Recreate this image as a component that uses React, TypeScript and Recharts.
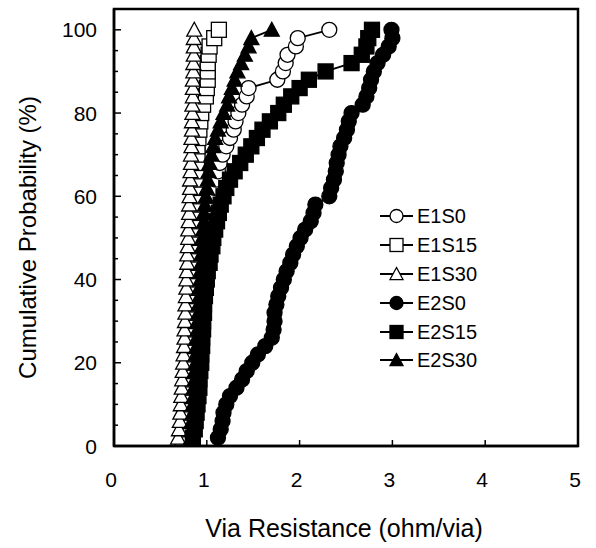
import React from 'react';
import { ScatterChart, Scatter, XAxis, YAxis, ReferenceArea } from 'recharts';

const probs = [2,4,6,8,10,12,14,16,18,20,22,24,26,28,30,32,34,36,38,40,42,44,46,48,50,52,54,56,58,60,62,64,66,68,70,72,74,76,78,80,82,84,86,88,90,92,94,96,98,100];

const e1s0 = [0.85,0.86,0.87,0.88,0.88,0.89,0.9,0.9,0.91,0.92,0.92,0.93,0.94,0.94,0.95,0.96,0.96,0.97,0.98,0.98,0.99,1.0,1.0,1.01,1.02,1.02,1.03,1.04,1.05,1.06,1.08,1.1,1.12,1.14,1.17,1.21,1.25,1.29,1.31,1.34,1.38,1.43,1.45,1.76,1.82,1.85,1.87,1.96,1.98,2.32];
const e1s15 = [0.74,0.75,0.755,0.76,0.765,0.77,0.775,0.78,0.785,0.79,0.79,0.795,0.8,0.805,0.81,0.815,0.82,0.82,0.825,0.83,0.83,0.835,0.84,0.845,0.85,0.855,0.86,0.865,0.87,0.875,0.88,0.885,0.89,0.895,0.9,0.9,0.91,0.92,0.93,0.94,0.96,0.99,1.0,1.01,1.01,1.01,1.02,1.03,1.08,1.13];
const e1s30 = [0.69,0.7,0.71,0.715,0.72,0.725,0.73,0.735,0.74,0.745,0.75,0.755,0.76,0.76,0.765,0.77,0.77,0.775,0.78,0.78,0.785,0.79,0.79,0.795,0.8,0.8,0.805,0.81,0.81,0.815,0.82,0.82,0.825,0.83,0.83,0.835,0.835,0.84,0.84,0.845,0.845,0.85,0.85,0.85,0.855,0.855,0.86,0.86,0.86,0.865];
const e2s0 = [1.12,1.15,1.17,1.18,1.21,1.25,1.32,1.38,1.43,1.49,1.55,1.63,1.7,1.72,1.73,1.73,1.75,1.77,1.8,1.83,1.86,1.9,1.93,1.97,2.01,2.06,2.12,2.15,2.17,2.32,2.34,2.37,2.39,2.4,2.42,2.44,2.48,2.51,2.53,2.56,2.68,2.72,2.75,2.77,2.8,2.84,2.9,2.96,3.0,2.99];
const e2s15 = [0.85,0.87,0.88,0.89,0.9,0.91,0.92,0.92,0.93,0.94,0.94,0.95,0.95,0.96,0.96,0.97,0.97,0.98,0.99,1.0,1.01,1.03,1.04,1.06,1.07,1.09,1.11,1.13,1.15,1.18,1.21,1.25,1.3,1.36,1.42,1.48,1.54,1.6,1.68,1.77,1.83,1.91,2.0,2.1,2.28,2.56,2.67,2.72,2.74,2.78];
const e2s30 = [0.83,0.84,0.84,0.85,0.85,0.86,0.86,0.87,0.87,0.88,0.88,0.89,0.89,0.9,0.9,0.91,0.91,0.92,0.92,0.93,0.93,0.94,0.94,0.95,0.95,0.96,0.97,0.97,0.98,0.99,1.0,1.01,1.02,1.03,1.05,1.07,1.09,1.12,1.15,1.18,1.22,1.24,1.27,1.3,1.33,1.37,1.41,1.45,1.48,1.7];

const xTicks = [0,1,2,3,4,5];
const yTicks = [0,5,10,15,20,25,30,35,40,45,50,55,60,65,70,75,80,85,90,95,100];

const seriesNames = ['E1S0','E1S15','E1S30','E2S0','E2S15','E2S30'];
const seriesX = [e1s0, e1s15, e1s30, e2s0, e2s15, e2s30];
const seriesShape = ['circle','square','triangle','circle','square','triangle'];
const seriesFilled = [false,false,false,true,true,true];

const FONT = '"Liberation Sans", Arial, sans-serif';

function Marker({ cx, cy, kind, filled, s = 7.5 }: any) {
  const fill = filled ? '#000' : '#fff';
  const common = { fill, stroke: '#000', strokeWidth: 1.3 };
  if (kind === 'circle') return <circle cx={cx} cy={cy} r={s} {...common} />;
  if (kind === 'square') return <rect x={cx - s} y={cy - s} width={2 * s} height={2 * s} {...common} />;
  return <polygon points={`${cx},${cy - s} ${cx + s},${cy + s * 0.85} ${cx - s},${cy + s * 0.85}`} {...common} />;
}

const YTick = (props: any) => {
  const { x, y, payload } = props;
  const v = payload.value;
  const major = v % 20 === 0;
  return (
    <g>
      <line x1={x} x2={x + (major ? 7 : 4)} y1={y} y2={y} stroke="#000" strokeWidth={1.5} />
      {major && (
        <text x={x - 17} y={y} dy="0.36em" textAnchor="end" fontFamily={FONT} fontSize={21} fill="#000">{v}</text>
      )}
    </g>
  );
};

const XTick = (props: any) => {
  const { x, y, payload } = props;
  return (
    <g>
      <line x1={x} x2={x} y1={y} y2={y - 6} stroke="#000" strokeWidth={1.5} />
      <text x={x - 3} y={y + 33} dy="0.36em" textAnchor="middle" fontFamily={FONT} fontSize={21} fill="#000">{payload.value}</text>
    </g>
  );
};

const LegendBox = () => (
  <div style={{ position: 'absolute', left: 380, top: 202, fontFamily: FONT, fontSize: 20, lineHeight: 1 }}>
    {seriesNames.map((n, i) => (
      <div key={n} style={{ display: 'flex', alignItems: 'center', height: 28.8 }}>
        <svg width={34} height={20} style={{ display: 'block' }}>
          <line x1={0} x2={33} y1={10} y2={10} stroke="#000" strokeWidth={2} />
          <Marker cx={16.5} cy={10} kind={seriesShape[i]} filled={seriesFilled[i]} s={6.5} />
        </svg>
        <span style={{ marginLeft: 3 }}>{n}</span>
      </div>
    ))}
  </div>
);

export default function App() {
  const datasets = seriesX.map((xs) => xs.map((x, i) => ({ x, y: probs[i] })));
  return (
    <div style={{ position: 'absolute', left: 0, top: 0, width: 596, height: 548, background: '#fff' }}>
      <ScatterChart width={596} height={548} margin={{ top: 9, right: 18, left: 0, bottom: 0 }}>
        <XAxis
          type="number"
          dataKey="x"
          domain={[0, 5]}
          ticks={xTicks}
          tick={<XTick />}
          tickSize={0}
          tickMargin={0}
          tickLine={false}
          height={102}
          axisLine={{ stroke: '#000', strokeWidth: 2.5 }}
          allowDataOverflow
          label={{
            content: (p: any) => {
              const vb = p.viewBox;
              return (
                <text x={vb.x + vb.width / 2 - 2} y={vb.y + 82} dy="0.36em" textAnchor="middle" fontFamily={FONT} fontSize={25} fill="#000">
                  Via Resistance (ohm/via)
                </text>
              );
            },
          }}
        />
        <YAxis
          type="number"
          dataKey="y"
          domain={[0, 105]}
          ticks={yTicks}
          interval={0}
          tick={<YTick />}
          tickSize={0}
          tickMargin={0}
          tickLine={false}
          width={114}
          axisLine={{ stroke: '#000', strokeWidth: 2.5 }}
          allowDataOverflow
          label={{
            content: (p: any) => {
              const vb = p.viewBox;
              const cx = vb.x + 27;
              const cy = vb.y + vb.height / 2 + 10;
              return (
                <text x={cx} y={cy} dy="0.36em" textAnchor="middle" transform={`rotate(-90 ${cx} ${cy})`} fontFamily={FONT} fontSize={24} fill="#000">
                  Cumulative Probability (%)
                </text>
              );
            },
          }}
        />
        <ReferenceArea x1={0} x2={5} y1={0} y2={105} fill="none" stroke="#000" strokeWidth={2.5} ifOverflow="visible" />
        {datasets.map((d, i) => (
          <Scatter
            key={seriesNames[i]}
            name={seriesNames[i]}
            data={d}
            isAnimationActive={false}
            line={{ stroke: '#000', strokeWidth: 1.8 }}
            lineType="joint"
            shape={(p: any) => <Marker cx={p.cx} cy={p.cy} kind={seriesShape[i]} filled={seriesFilled[i]} />}
          />
        ))}
      </ScatterChart>
      <LegendBox />
    </div>
  );
}
